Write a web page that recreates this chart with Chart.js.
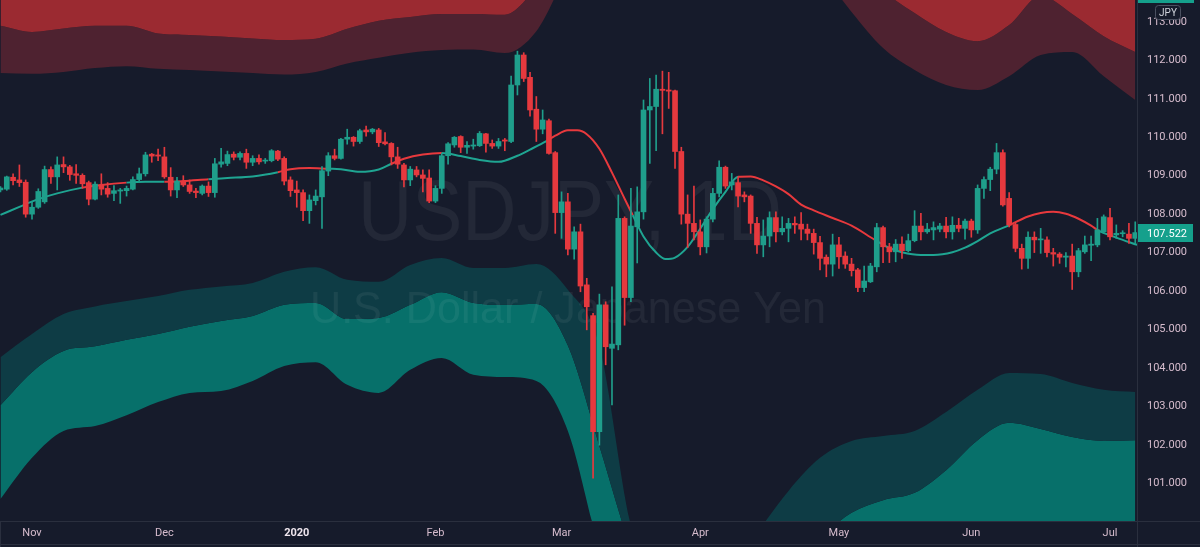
<!DOCTYPE html>
<html>
<head>
<meta charset="utf-8">
<title>USDJPY, 1D</title>
<script src="https://cdn.jsdelivr.net/npm/chart.js@4.4.1/dist/chart.umd.min.js"></script>
<style>
    html, body { margin: 0; padding: 0; background: #161b2b; }
    #wrap { width: 1200px; height: 547px; position: relative; }
</style>
</head>
<body>
<div id="wrap"><canvas id="chart" width="1200" height="547"></canvas></div>
<script>
// Daily candles, day index 0 = Nov 1 2019 (first candle is index -5)
const firstDay = -5;

const openP = [
    108.63, 108.65, 108.96, 108.89, 108.83, 108.00, 108.18, 108.32, 109.16, 108.97,
    109.29, 109.23, 109.05, 109.01, 108.82, 108.39, 108.76, 108.67, 108.54, 108.60,
    108.61, 108.65, 108.90, 109.05, 109.56, 109.54, 109.49, 108.96, 108.63, 108.86,
    108.76, 108.60, 108.54, 108.73, 108.56, 109.30, 109.32, 109.56, 109.48, 109.58,
    109.35, 109.45, 109.38, 109.39, 109.64, 109.45, 108.89, 108.63, 108.56, 108.09,
    108.35, 108.45, 109.12, 109.52, 109.45, 109.95, 110.00, 109.89, 110.19, 110.14,
    110.19, 109.88, 109.84, 109.49, 109.28, 108.89, 109.15, 109.02, 108.94, 108.34,
    108.67, 109.52, 109.80, 110.02, 109.74, 109.77, 109.78, 110.09, 109.84, 109.77,
    109.93, 109.89, 111.36, 112.14, 111.56, 110.73, 110.21, 110.43, 109.60, 108.04,
    108.32, 107.09, 107.54, 106.16, 105.36, 102.34, 105.64, 104.51, 104.60, 107.89,
    105.83, 107.67, 108.06, 110.71, 110.80, 111.25, 111.23, 111.21, 109.63, 108.00,
    107.76, 107.54, 107.15, 107.87, 108.54, 109.22, 108.76, 108.82, 108.50, 108.47,
    107.76, 107.20, 107.43, 107.91, 107.54, 107.63, 107.76, 107.74, 107.61, 107.50,
    107.26, 106.88, 106.70, 107.20, 106.91, 106.70, 106.55, 106.09, 106.24, 106.63,
    107.65, 107.15, 107.02, 107.22, 107.05, 107.31, 107.69, 107.54, 107.59, 107.61,
    107.69, 107.54, 107.71, 107.63, 107.82, 107.59, 108.67, 108.90, 109.17, 109.60,
    108.41, 107.73, 107.11, 106.85, 107.40, 107.33, 107.33, 107.00, 106.96, 106.88,
    106.91, 106.50, 107.02, 107.19, 107.20, 107.54, 107.91, 107.46, 107.49, 107.48,
    107.37
];
const highP = [
    108.72, 108.99, 109.05, 109.28, 108.89, 108.33, 108.66, 109.25, 109.23, 109.49,
    109.49, 109.27, 109.29, 109.05, 108.86, 108.84, 109.05, 108.82, 108.74, 108.67,
    108.73, 108.97, 109.20, 109.61, 109.58, 109.69, 109.74, 109.21, 108.96, 109.00,
    108.89, 108.67, 108.76, 108.84, 109.45, 109.71, 109.64, 109.62, 109.62, 109.69,
    109.52, 109.54, 109.45, 109.68, 109.66, 109.49, 108.97, 108.86, 108.63, 108.50,
    108.63, 109.24, 109.60, 109.69, 109.97, 110.21, 110.02, 110.21, 110.29, 110.23,
    110.23, 110.12, 109.86, 109.74, 109.32, 109.24, 109.24, 109.15, 109.15, 108.74,
    109.58, 109.86, 110.02, 110.04, 109.89, 109.95, 110.15, 110.10, 109.93, 109.97,
    109.97, 111.59, 112.24, 112.20, 111.69, 111.06, 110.71, 110.47, 109.63, 108.58,
    108.54, 107.67, 107.74, 106.33, 105.42, 105.92, 105.72, 106.11, 108.50, 107.93,
    108.67, 108.71, 110.97, 111.53, 111.62, 111.72, 111.69, 111.23, 109.74, 108.50,
    108.73, 107.85, 107.93, 108.67, 109.39, 109.25, 109.06, 108.97, 108.58, 108.50,
    107.92, 107.85, 108.06, 108.06, 107.93, 107.89, 107.93, 108.04, 107.74, 107.61,
    107.42, 106.94, 107.48, 107.40, 107.02, 106.85, 106.59, 106.65, 106.72, 107.76,
    107.69, 107.24, 107.34, 107.41, 107.48, 108.09, 108.02, 107.76, 107.80, 107.76,
    107.92, 107.93, 107.89, 107.87, 107.87, 108.76, 108.97, 109.22, 109.84, 109.67,
    108.56, 107.78, 107.22, 107.54, 107.54, 107.63, 107.41, 107.11, 107.00, 107.00,
    107.22, 107.11, 107.43, 107.43, 107.89, 107.98, 108.15, 107.72, 107.57, 107.76,
    107.80
];
const lowP = [
    108.58, 108.62, 108.76, 108.72, 107.92, 107.87, 108.15, 108.28, 108.80, 108.63,
    109.08, 108.88, 108.80, 108.67, 108.24, 108.37, 108.50, 108.44, 108.35, 108.28,
    108.47, 108.63, 108.84, 108.99, 109.35, 109.39, 108.93, 108.47, 108.43, 108.72,
    108.54, 108.43, 108.50, 108.46, 108.44, 109.22, 109.26, 109.41, 109.41, 109.19,
    109.26, 109.30, 109.32, 109.36, 109.39, 108.76, 108.46, 108.18, 107.83, 107.76,
    108.24, 107.63, 109.00, 109.41, 109.43, 109.82, 109.77, 109.84, 110.03, 110.09,
    109.76, 109.80, 109.28, 109.19, 108.71, 108.74, 108.97, 108.58, 108.30, 108.30,
    108.54, 109.30, 109.74, 109.60, 109.58, 109.69, 109.76, 109.61, 109.71, 109.71,
    109.65, 109.86, 111.10, 111.45, 110.55, 109.89, 110.09, 109.56, 107.50, 107.37,
    106.94, 106.83, 105.98, 104.99, 101.13, 101.99, 104.08, 103.04, 104.47, 105.11,
    105.72, 106.73, 107.87, 109.32, 109.65, 110.09, 110.75, 109.19, 107.74, 107.13,
    107.33, 106.94, 106.99, 107.80, 108.45, 108.67, 108.63, 108.19, 108.32, 107.50,
    106.98, 106.89, 107.15, 107.28, 107.46, 107.28, 107.50, 107.33, 107.33, 106.96,
    106.55, 106.37, 106.39, 106.59, 106.59, 106.39, 105.98, 105.98, 106.22, 106.50,
    106.74, 106.74, 106.76, 106.85, 107.02, 107.28, 107.33, 107.50, 107.33, 107.54,
    107.38, 107.35, 107.54, 107.35, 107.40, 107.50, 108.41, 108.61, 109.05, 108.21,
    107.67, 107.02, 106.57, 106.59, 107.00, 106.98, 106.89, 106.65, 106.72, 106.63,
    106.04, 106.37, 106.98, 106.79, 107.15, 107.50, 107.33, 107.37, 107.41, 107.24,
    107.24
];
const closeP = [
    108.68, 108.97, 108.87, 108.82, 108.00, 108.18, 108.59, 109.16, 108.97, 109.28,
    109.23, 109.03, 109.01, 108.79, 108.39, 108.78, 108.65, 108.52, 108.61, 108.63,
    108.67, 108.90, 109.05, 109.54, 109.51, 109.51, 108.97, 108.63, 108.86, 108.76,
    108.59, 108.56, 108.73, 108.56, 109.31, 109.36, 109.55, 109.48, 109.58, 109.35,
    109.45, 109.36, 109.39, 109.65, 109.43, 108.86, 108.61, 108.56, 108.09, 108.37,
    108.47, 109.13, 109.52, 109.45, 109.95, 110.00, 109.89, 110.17, 110.14, 110.21,
    109.86, 109.83, 109.49, 109.30, 108.89, 109.17, 109.02, 108.93, 108.34, 108.67,
    109.52, 109.83, 110.00, 109.74, 109.79, 109.80, 110.10, 109.84, 109.77, 109.89,
    109.90, 111.36, 112.14, 111.53, 110.71, 110.21, 110.45, 109.58, 108.04, 108.32,
    107.09, 107.54, 106.13, 105.59, 102.34, 105.64, 104.55, 104.62, 107.89, 105.83,
    107.69, 108.06, 110.71, 110.80, 111.25, 111.22, 111.20, 109.63, 108.00, 107.76,
    107.54, 107.15, 107.87, 108.54, 109.22, 108.73, 108.84, 108.47, 108.45, 107.76,
    107.20, 107.43, 107.91, 107.54, 107.63, 107.76, 107.72, 107.61, 107.50, 107.26,
    106.85, 106.70, 107.20, 106.89, 106.70, 106.53, 106.09, 106.26, 106.65, 107.65,
    107.15, 107.02, 107.22, 107.05, 107.31, 107.69, 107.54, 107.61, 107.65, 107.69,
    107.54, 107.71, 107.63, 107.82, 107.59, 108.67, 108.90, 109.17, 109.60, 108.24,
    107.72, 107.11, 106.85, 107.40, 107.33, 107.34, 107.00, 106.96, 106.88, 106.91,
    106.50, 107.05, 107.20, 107.22, 107.59, 107.93, 107.41, 107.50, 107.50, 107.37,
    107.52
];
const lastPrice = 107.522;

// month labels on the time axis (day index of the first trading day)
const monthTickIdx = [0, 21, 42, 64, 84, 106, 128, 149, 171];
const monthTickLabels = ['Nov', 'Dec', '2020', 'Feb', 'Mar', 'Apr', 'May', 'Jun', 'Jul'];

// envelope bands, sampled every 5 days
const bandIdx = [-5, 0, 5, 10, 15, 20, 25, 30, 35, 40, 45, 50, 55, 60, 65, 70, 75, 80, 85,
    90, 95, 100, 105, 110, 115, 120, 125, 130, 135, 140, 145, 150, 155, 160, 165, 170, 175];
const upperInner = [112.90, 112.74, 112.83, 112.90, 112.90, 112.70, 112.66, 112.62, 112.57, 112.53,
    112.56, 112.82, 113.03, 113.13, 113.21, 113.21, 113.19, 113.9, 115.0, 116.5, 117.5, 118.0, 118.0,
    117.5, 116.8, 116.0, 115.2, 114.5, 113.8, 113.23, 112.74, 112.50, 112.92, 113.68, 113.21, 112.63, 112.22];
const upperOuter = [111.67, 111.65, 111.70, 111.80, 111.85, 111.78, 111.75, 111.71, 111.67, 111.63,
    111.70, 111.92, 112.07, 112.20, 112.27, 112.28, 112.19, 112.76, 114.3, 115.5, 116.5, 117.0, 116.8,
    116.2, 115.6, 115.0, 114.3, 113.26, 112.32, 111.75, 111.36, 111.23, 111.59, 112.14, 112.22, 111.59, 110.97];
const lowerOuter = [104.28, 104.88, 105.40, 105.60, 105.74, 105.87, 106.03, 106.12, 106.21, 106.50,
    106.62, 106.29, 106.24, 106.68, 106.86, 106.60, 106.60, 106.70, 106.03, 104.57, 99.9, 98.0, 97.5,
    98.5, 99.7, 100.8, 101.66, 102.10, 102.23, 102.36, 102.85, 103.43, 103.87, 103.84, 103.61, 103.43, 103.37];
const lowerInner = [103.03, 103.89, 104.44, 104.56, 104.73, 104.88, 105.07, 105.22, 105.35, 105.64,
    105.69, 105.27, 105.30, 105.64, 105.97, 105.69, 105.64, 105.66, 104.58, 101.97, 99.3, 97.5, 97.0,
    97.5, 98.3, 99.0, 99.6, 100.23, 100.56, 100.75, 101.34, 102.12, 102.57, 102.41, 102.20, 102.10, 102.12];
const lowerBase = [100.59, 101.66, 102.36, 102.49, 102.77, 103.11, 103.35, 103.40, 103.66, 104.05,
    104.15, 103.56, 103.35, 103.95, 104.26, 103.82, 103.76, 103.66, 102.36, 99.3, 97.0, 96.0, 95.5,
    95.5, 96.0, 96.5, 97.0, 97.5, 97.8, 98.0, 98.3, 98.6, 98.8, 98.9, 99.0, 99.0, 99.0];

// smoothed average line
const maIdx = [-5, -2, 1, 4, 8, 11, 15, 18, 21, 24, 28, 31, 35, 39, 41, 44, 47, 49, 52, 55, 57, 59,
    62, 65, 68, 71, 74, 77, 79, 81.6, 83, 85, 86.5, 88, 90, 92, 94, 95.3, 97, 99, 100.5, 102, 104,
    106, 108, 110, 112, 114, 116, 118, 120, 122, 124, 127, 130, 133.7, 136, 138, 141, 143, 146, 148,
    150, 152, 155, 158, 160, 162, 164, 166, 168, 169.2, 172, 175.3];
const maVal = [107.98, 108.19, 108.39, 108.54, 108.69, 108.76, 108.82, 108.84, 108.84, 108.86,
    108.91, 108.94, 108.98, 109.09, 109.17, 109.20, 109.18, 109.17, 109.10, 109.16, 109.31, 109.44,
    109.55, 109.59, 109.51, 109.41, 109.36, 109.52, 109.68, 109.90, 110.04, 110.18, 110.18, 110.08,
    109.70, 109.08, 108.40, 107.97, 107.42, 107.00, 106.83, 106.87, 107.15, 107.62, 108.13, 108.58,
    108.97, 108.98, 108.88, 108.72, 108.52, 108.25, 108.10, 107.90, 107.70, 107.33, 107.12, 107.01,
    106.94, 106.94, 107.01, 107.13, 107.30, 107.50, 107.71, 107.94, 108.03, 108.06, 108.01, 107.88,
    107.70, 107.57, 107.39, 107.20];
// trend state of the average (from day index onwards)
const trendFrom = [-5, 8, 15, 21, 28, 39, 47, 57, 65, 81.6, 95.3, 112, 133.7, 155, 169.2];
const trendUp = [true, false, true, false, true, false, true, false, true, false, true, false, true, false, true];

const BG = '#161b2b';
const UP = '#1f9e8b';
const DOWN = '#e6393e';
const LINE_UP = '#1fa592';
const LINE_DOWN = '#e8393d';
const AXIS_TEXT = '#d6bccd';
const FONT = "Roboto, 'Noto Sans', sans-serif";

const days = openP.map((_, k) => firstDay + k);
const isUp = k => closeP[k] >= openP[k];
const bandPoints = vals => bandIdx.map((d, k) => ({ x: d, y: vals[k] }));

function trendAt(x) {
    let up = trendUp[0];
    trendFrom.forEach((start, k) => { if (x >= start) up = trendUp[k]; });
    return up;
}

function bandDataset(label, vals, fill, color) {
    return {
        type: 'line',
        label,
        data: bandPoints(vals),
        fill: fill ? { target: fill, above: color, below: color } : false,
        backgroundColor: color,
        borderColor: 'transparent',
        borderWidth: 0,
        pointRadius: 0,
        cubicInterpolationMode: 'monotone',
        order: 5
    };
}

function drawStretched(ctx, text, cx, cy, size, width) {
    ctx.font = size + 'px "Liberation Sans", sans-serif';
    const w = ctx.measureText(text).width;
    ctx.save();
    ctx.translate(cx, cy);
    ctx.scale(width / w, 1);
    ctx.fillText(text, 0, 0);
    ctx.restore();
}

// keep the plot edge-to-edge: no extra room for the outer tick labels
function noPadding(scale) {
    scale.paddingTop = 0;
    scale.paddingBottom = 0;
    scale.paddingLeft = 0;
    scale.paddingRight = 0;
}

const backdrop = {
    id: 'backdrop',
    beforeDraw(chart) {
        const { ctx, width, height } = chart;
        ctx.save();
        ctx.fillStyle = BG;
        ctx.fillRect(0, 0, width, height);
        ctx.restore();
    }
};

const watermark = {
    id: 'watermark',
    beforeDatasetDraw(chart, args) {
        if (chart.data.datasets[args.index].label !== 'MA') return;
        const { ctx, chartArea: a } = chart;
        ctx.save();
        ctx.beginPath();
        ctx.rect(a.left, a.top, a.width, a.height);
        ctx.clip();
        ctx.fillStyle = 'rgba(255, 255, 255, 0.06)';
        ctx.textAlign = 'center';
        ctx.textBaseline = 'middle';
        drawStretched(ctx, 'USDJPY, 1D', 570, 216, 86, 424);
        drawStretched(ctx, 'U.S. Dollar / Japanese Yen', 568, 311, 44, 516);
        ctx.restore();
    }
};

const decorations = {
    id: 'decorations',
    afterDraw(chart) {
        const { ctx, chartArea: a, width, height } = chart;
        const yScale = chart.scales.y;
        ctx.save();
        // pane borders
        ctx.strokeStyle = '#2a2f3e';
        ctx.lineWidth = 1;
        ctx.beginPath();
        ctx.moveTo(0, a.bottom + 0.5); ctx.lineTo(width, a.bottom + 0.5);
        ctx.moveTo(a.right + 0.5, 0); ctx.lineTo(a.right + 0.5, height);
        ctx.moveTo(0, height - 2.5); ctx.lineTo(width, height - 2.5);
        ctx.moveTo(0.5, a.bottom); ctx.lineTo(0.5, height);
        ctx.stroke();

        // last price tag
        const py = Math.round(yScale.getPixelForValue(lastPrice));
        ctx.fillStyle = '#15a08c';
        ctx.fillRect(a.right + 1, py - 9, 55, 18);
        ctx.fillStyle = '#ffffff';
        ctx.font = '11px ' + FONT;
        ctx.textAlign = 'left';
        ctx.textBaseline = 'middle';
        ctx.fillText(lastPrice.toFixed(3), a.right + 10, py + 1);

        // currency badge and top marker
        ctx.fillStyle = '#15a08c';
        ctx.fillRect(a.right + 1, 0, 56, 3);
        ctx.fillStyle = BG;
        ctx.strokeStyle = '#4a5060';
        ctx.beginPath();
        ctx.roundRect(1155.5, 5.5, 25, 14, 3);
        ctx.fill();
        ctx.stroke();
        ctx.fillStyle = '#d1d4dc';
        ctx.font = '10px ' + FONT;
        ctx.textAlign = 'center';
        ctx.fillText('JPY', 1168, 13);
        ctx.restore();
    }
};

const datasets = [
    bandDataset('upperInner', upperInner, 'end', '#9b2a31'),
    bandDataset('upperOuter', upperOuter, '-1', '#4e2230'),
    bandDataset('lowerOuter', lowerOuter, '+1', '#0e3c45'),
    bandDataset('lowerInner', lowerInner, '+1', '#07706a'),
    bandDataset('lowerBase', lowerBase, false, 'transparent'),
    {
        type: 'line',
        label: 'MA',
        data: maIdx.map((d, k) => ({ x: d, y: maVal[k] })),
        borderWidth: 2,
        pointRadius: 0,
        fill: false,
        cubicInterpolationMode: 'monotone',
        segment: {
            borderColor: ctx => {
                const mid = (maIdx[ctx.p0DataIndex] + maIdx[ctx.p1DataIndex]) / 2;
                return trendAt(mid) ? LINE_UP : LINE_DOWN;
            }
        },
        order: 3
    },
    {
        type: 'bar',
        label: 'wicks',
        data: days.map((d, k) => ({ x: d, y: [lowP[k], highP[k]] })),
        backgroundColor: ctx => isUp(ctx.dataIndex) ? UP : DOWN,
        barThickness: 1,
        grouped: false,
        minBarLength: 1,
        order: 2
    },
    {
        type: 'bar',
        label: 'bodies',
        data: days.map((d, k) => ({ x: d, y: [openP[k], closeP[k]] })),
        backgroundColor: ctx => isUp(ctx.dataIndex) ? UP : DOWN,
        barThickness: 5,
        grouped: false,
        minBarLength: 1,
        order: 1
    }
];

new Chart(document.getElementById('chart'), {
    type: 'bar',
    data: { datasets },
    options: {
        responsive: false,
        animation: false,
        devicePixelRatio: 1,
        layout: { padding: 0 },
        elements: { line: { capBezierPoints: false } },
        plugins: {
            legend: { display: false },
            tooltip: { enabled: false },
            filler: { propagate: false }
        },
        scales: {
            x: {
                type: 'linear',
                min: -5.076,
                max: 175.28,
                offset: false,
                grid: { display: false, drawTicks: false },
                border: { display: false },
                afterFit: scale => { scale.height = 26; noPadding(scale); },
                afterBuildTicks: scale => {
                    scale.ticks = monthTickIdx.map(v => ({ value: v }));
                },
                ticks: {
                    autoSkip: false,
                    maxRotation: 0,
                    padding: 6,
                    color: ctx => monthTickLabels[ctx.index] === '2020' ? '#efe6ee' : AXIS_TEXT,
                    font: ctx => ({
                        family: FONT,
                        size: 11,
                        weight: monthTickLabels[ctx.index] === '2020' ? 'bold' : 'normal'
                    }),
                    callback: (value, index) => monthTickLabels[index]
                }
            },
            y: {
                type: 'linear',
                position: 'right',
                min: 100.017,
                max: 113.571,
                grid: { display: false, drawTicks: false },
                border: { display: false },
                afterFit: scale => { scale.width = 63; noPadding(scale); },
                ticks: {
                    stepSize: 1,
                    includeBounds: false,
                    padding: 10,
                    color: AXIS_TEXT,
                    font: { family: FONT, size: 11 },
                    callback: v => v.toFixed(3)
                }
            }
        }
    },
    plugins: [backdrop, watermark, decorations]
});
</script>
</body>
</html>
